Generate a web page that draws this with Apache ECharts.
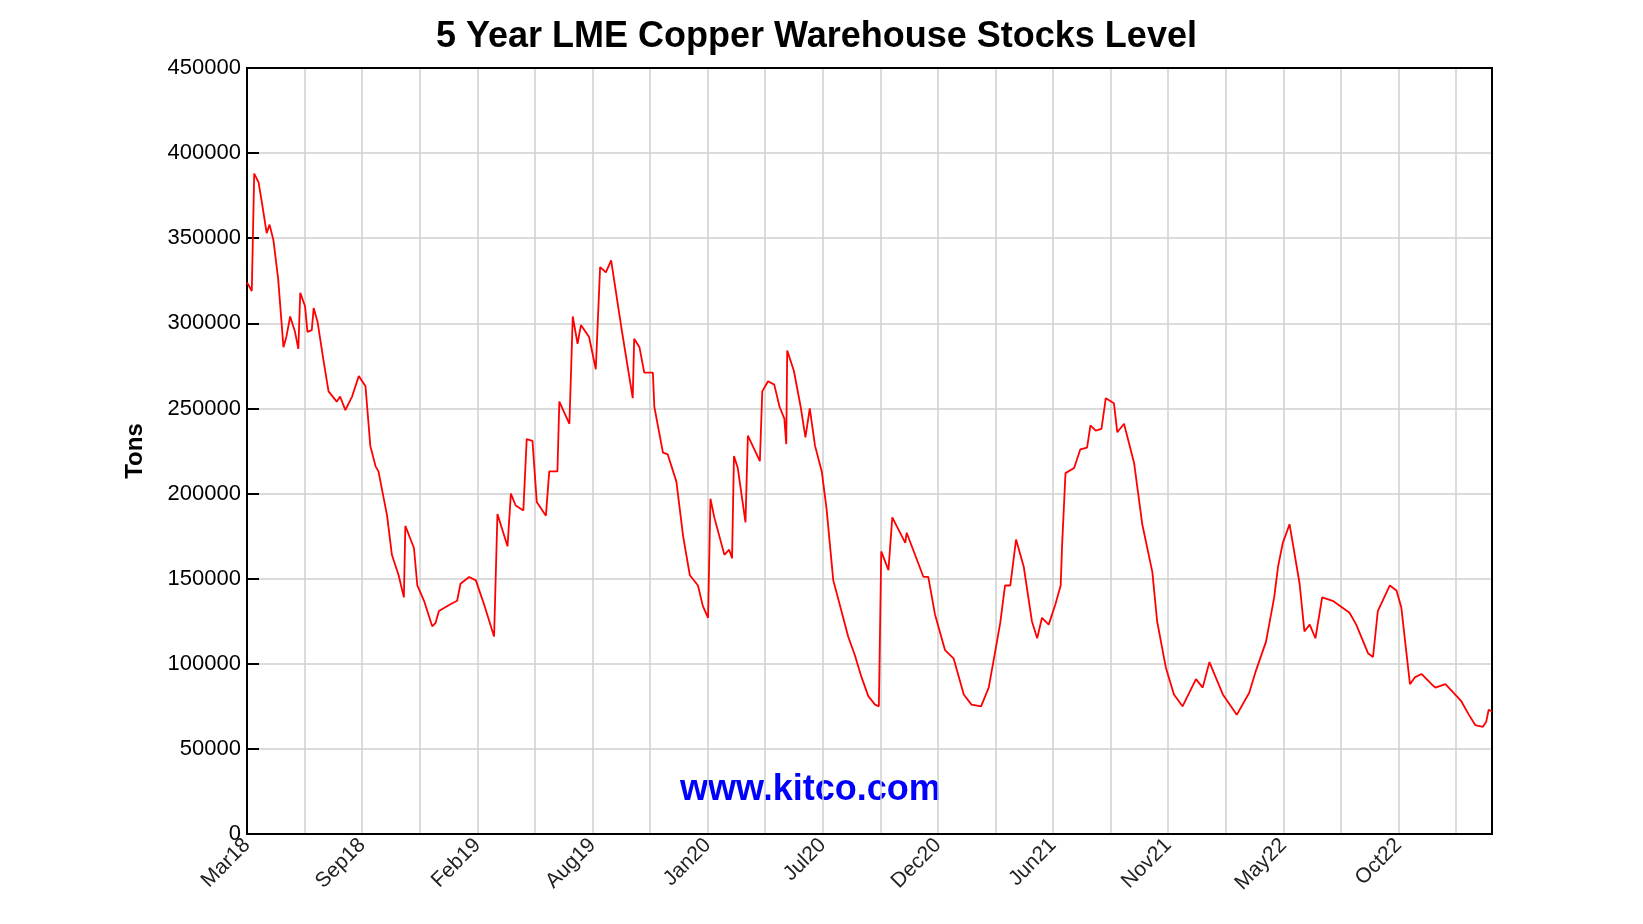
<!DOCTYPE html>
<html><head><meta charset="utf-8">
<script src="https://cdn.jsdelivr.net/npm/echarts@6/dist/echarts.min.js"></script>
<style>html,body{margin:0;padding:0;background:#fff}#c{width:1643px;height:924px}</style>
</head><body><div id="c"></div>
<script>
// weeks since Mar 2018
const weeks = [0,1,1.5,2.4,3.1,4.1,4.7,5.5,6.5,7.6,8.2,9,10,10.7,11.1,12.1,12.6,13.5,13.9,14.7,15.9,17,18.7,19.4,20.5,21.9,23.3,24.7,25.7,26.8,27.4,29.2,30.2,31.6,32.7,33,34.8,35.5,36.9,38.6,39.3,40,42.4,43.8,44.5,46.3,47.7,49.4,51.5,52.2,54.3,55,56,57.6,58.3,59.5,60.4,62.3,63,64.7,65.1,67.2,67.9,68.9,69.6,71.3,72.7,73.6,74.8,75.9,77.3,78,80.4,80.7,81.8,82.8,84.6,84.9,86.7,87.7,89.5,90.9,92.3,94,95,96.1,96.6,97.4,99.5,100.5,101.1,101.5,102.3,103.9,104.4,106.9,107.4,108.6,109.9,111,112,112.4,112.6,114,115.4,116.4,117.3,118.4,119.8,120.8,122.2,123.9,125.3,126.7,128.1,129.5,130.9,131.7,132.2,133.7,134.5,137.2,137.5,141,142,143.4,145.5,147.3,149.4,151,153,154.6,156,157,158,159.1,160.3,161.9,163.6,164.7,165.7,167.1,168.5,169.6,169.9,170.6,172.4,173.7,175.1,175.8,176.9,178.1,179,180.7,181.4,182.8,184.9,186.6,188.7,189.7,191.5,193.2,195,197.8,199.2,200.6,203.4,206.3,208.9,210.3,212.4,214.1,214.9,215.9,217.3,219.4,220.4,221.5,222.7,224.1,226.3,229.8,231.2,233.7,234.7,235.7,238.2,239.6,240.6,242.4,243.4,244.8,246.9,247.7,249.8,253.1,254.7,256,257.6,258.3,258.8,259.5];
const stocks = [324,319,388,383,371,353,358,349,326,286,292,304,295,285,318,310,295,296,309,301,279,260,254,257,249,257,269,263,228,216,213,187,164,152,139,181,168,146,137,122,124,131,135,137,147,151,149,135,116,188,169,200,193,190,232,231,195,187,213,213,254,241,304,288,299,292,273,333,330,337,311,298,256,291,286,271,271,251,224,223,207,175,152,146,134,127,197,186,164,167,162,222,215,183,234,219,260,266,264,251,244,229,284,272,251,233,250,228,213,191,149,131,116,105,92,81,76,75,166,155,186,171,177,151,151,129,108,103,82,76,75,86,108,124,146,146,173,157,125,115,127,123,135,146,170,212,215,226,227,240,237,238,256,253,236,241,218,182,154,125,98,82,75,91,86,101,82,70,83,96,113,139,157,171,182,147,119,123,115,139,137,130,123,106,104,131,146,143,133,88,92,94,88,86,88,78,70,64,63,66,73,72].map(v => v * 1000);
const xLabels = ['Mar18','Sep18','Feb19','Aug19','Jan20','Jul20','Dec20','Jun21','Nov21','May22','Oct22'];

const font = 'Liberation Sans, Arial';
const chart = echarts.init(document.getElementById('c'));
chart.setOption({
  animation: false,
  title: { text: '5 Year LME Copper Warehouse Stocks Level', left: 431, top: 14,
    textStyle: { fontFamily: font, fontWeight: 'bold', fontSize: 36, color: '#000' } },
  grid: { left: 247, right: 151, top: 68, bottom: 90, show: true, borderColor: '#000', borderWidth: 2, z: 3 },
  xAxis: { type: 'value', min: 0, max: 259.5, interval: 12,
    axisLine: { show: false }, axisTick: { show: false },
    splitLine: { show: true, lineStyle: { color: '#cfcfcf', width: 1.5 } },
    axisLabel: { rotate: 45, fontFamily: font, fontSize: 21, color: '#222', margin: 8,
      showMaxLabel: false,
      formatter: v => (v % 24 === 0 ? (xLabels[v / 24] || '') : '') } },
  yAxis: { type: 'value', min: 0, max: 450000, interval: 50000,
    name: 'Tons', nameLocation: 'middle', nameGap: 100, nameRotate: 90,
    nameTextStyle: { fontFamily: font, fontWeight: 'bold', fontSize: 24, color: '#000' },
    axisLine: { show: false }, axisTick: { show: true, inside: true, length: 12, lineStyle: { color: '#000', width: 2 } },
    splitLine: { show: true, lineStyle: { color: '#cfcfcf', width: 1.5 } },
    axisLabel: { fontFamily: font, fontSize: 22, color: '#000', margin: 6, formatter: v => String(v) } },
  graphic: [{ type: 'text', left: 680, top: 772,
    style: { text: 'www.kitco.com', fontFamily: font, fontWeight: 'bold', fontSize: 36, fill: '#0000ff' } }],
  series: [{ type: 'line', data: weeks.map((w, i) => [w, stocks[i]]), showSymbol: false,
    lineStyle: { color: '#ff0000', width: 1.8 } }]
});
</script></body></html>
